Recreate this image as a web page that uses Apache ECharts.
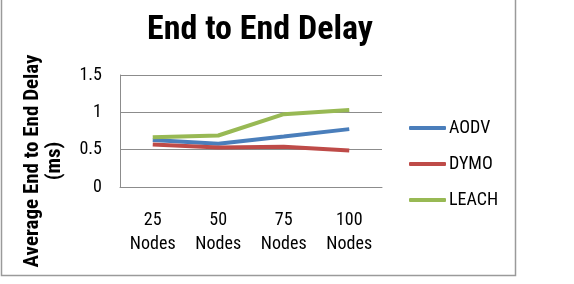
<!DOCTYPE html>
<html>
<head>
<meta charset="utf-8">
<script src="https://cdn.jsdelivr.net/npm/echarts@6/dist/echarts.min.js"></script>
<style>
html, body { margin: 0; padding: 0; background: #fff; }
#chart { width: 574px; height: 284px; }
</style>
</head>
<body>
<div id="chart"></div>
<script>
var categories = ["25\nNodes", "50\nNodes", "75\nNodes", "100\nNodes"];
var aodv = [0.63, 0.58, 0.675, 0.775];
var dymo = [0.57, 0.53, 0.54, 0.49];
var leach = [0.665, 0.69, 0.975, 1.03];
var yTicks = [0, 0.5, 1, 1.5];

var font = "'Roboto Condensed', 'DejaVu Sans', sans-serif";
var chart = echarts.init(document.getElementById("chart"));

var mk = function (name, data, color) {
  return {
    name: name,
    type: "line",
    data: data,
    symbol: "none",
    smooth: false,
    lineStyle: { color: color, width: 4 },
    itemStyle: { color: color }
  };
};

chart.setOption({
  animation: false,
  title: {
    text: "End to End Delay",
    left: 255,
    top: 8,
    textAlign: "center",
    textStyle: { fontFamily: font, fontWeight: "bold", fontSize: 34, color: "#000" }
  },
  grid: { left: 120, top: 75, width: 262, height: 112, containLabel: false, outerBoundsMode: "none" },
  legend: {
    orient: "vertical",
    left: 409,
    top: 118,
    padding: 0,
    itemWidth: 37,
    itemHeight: 4,
    itemGap: 16,
    icon: "roundRect",
    textStyle: { fontFamily: font, fontSize: 18, lineHeight: 20, color: "#000", padding: [0, 0, 0, -2] },
    data: ["AODV", "DYMO", "LEACH"]
  },
  xAxis: {
    type: "category",
    data: categories,
    boundaryGap: true,
    axisLine: { lineStyle: { color: "#8c8c8c", width: 1 } },
    axisTick: { show: false },
    axisLabel: { fontFamily: font, fontSize: 18, color: "#000", lineHeight: 24, margin: 21 }
  },
  yAxis: {
    type: "value",
    min: yTicks[0],
    max: yTicks[yTicks.length - 1],
    interval: 0.5,
    axisLine: { show: true, lineStyle: { color: "#8c8c8c", width: 1 } },
    axisTick: { show: false },
    splitLine: { lineStyle: { color: "#8c8c8c", width: 1 } },
    axisLabel: { fontFamily: font, fontSize: 18, color: "#000", margin: 18 }
  },
  graphic: [{
    type: "rect",
    shape: { x: 1.5, y: -1, width: 514, height: 276.5 },
    style: { fill: "none", stroke: "#9a9a9a", lineWidth: 1.5 },
    silent: true
  }, {
    // y axis title, rotated
    type: "text",
    x: 44,
    y: 161,
    rotation: Math.PI / 2,
    style: {
      text: "Average End to End Delay\n(ms)",
      fontFamily: font,
      fontWeight: "bold",
      fontSize: 21,
      lineHeight: 22,
      fill: "#000",
      align: "center",
      verticalAlign: "middle"
    },
    silent: true
  }],
  series: [mk("AODV", aodv, "#4a7ebb"), mk("DYMO", dymo, "#be4b48"), mk("LEACH", leach, "#98b954")]
});
</script>
</body>
</html>
